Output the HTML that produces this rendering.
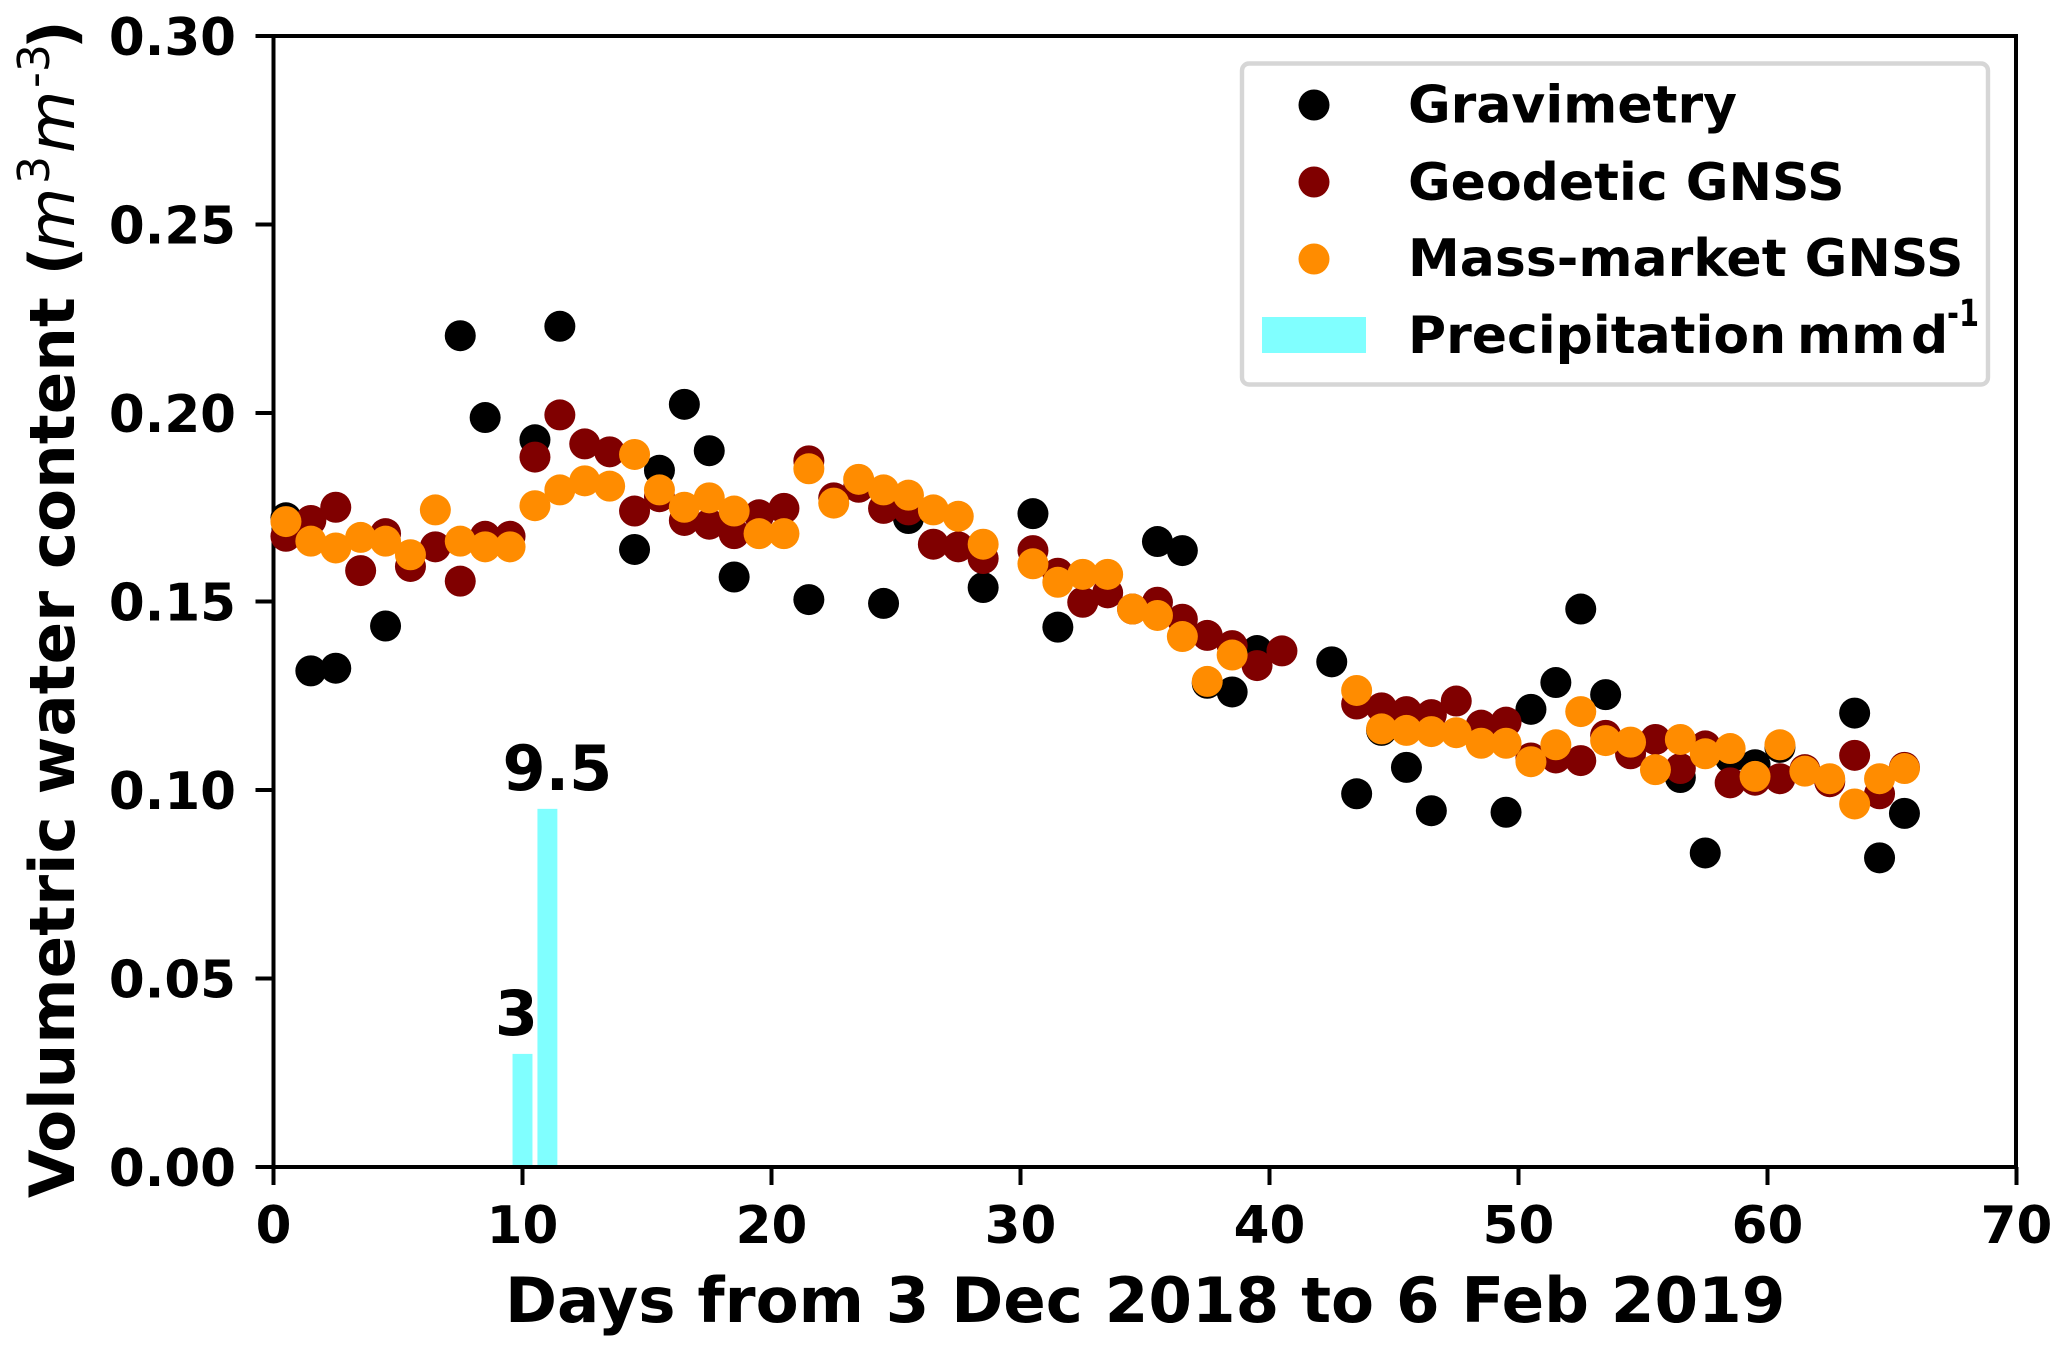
<!DOCTYPE html>
<html lang="en">
<head>
<meta charset="utf-8">
<title>Volumetric water content</title>
<style>
html,body{margin:0;padding:0;background:#fff;}
svg{display:block;}
text{font-family:"DejaVu Sans","Liberation Sans",sans-serif;fill:#000;}
.b{font-weight:700;}
.i{font-style:oblique;font-weight:400;}
</style>
</head>
<body>
<svg id="chart" xmlns="http://www.w3.org/2000/svg" width="2067" height="1354" viewBox="0 0 2067 1354">
  <rect x="0" y="0" width="2067" height="1354" fill="#fff"/>
  <g id="bars"></g>
  <g id="ticks"></g>
  <rect x="273.5" y="36" width="1742.5" height="1131" fill="none" stroke="#000" stroke-width="4"/>
  <g id="points"></g>

  <g>
    <text class="b" font-size="62.7" transform="translate(74,1198) rotate(-90)">Volumetric water content (</text>
    <text class="i" font-size="64" transform="translate(74,250) rotate(-90)">m</text>
    <text font-size="44" transform="translate(49,184) rotate(-90)">3</text>
    <text class="i" font-size="64" transform="translate(74,153) rotate(-90)">m</text>
    <text font-size="44" transform="translate(49,88) rotate(-90)">-3</text>
    <text class="b" font-size="62.7" transform="translate(74,49) rotate(-90)">)</text>
  </g>
  <text class="b" font-size="62.7" x="505" y="1322">Days from 3 Dec 2018 to 6 Feb 2019</text>

  <g>
    <rect x="1242" y="63.5" width="746" height="321" rx="7" ry="7" fill="#fff" stroke="#d6d6d6" stroke-width="4.4"/>
    <circle cx="1314" cy="105" r="15.5" fill="#000"/>
    <text class="b" font-size="52" x="1408" y="122.5">Gravimetry</text>
    <circle cx="1314" cy="182" r="15.5" fill="#800000"/>
    <text class="b" font-size="52" x="1408" y="200">Geodetic GNSS</text>
    <circle cx="1314" cy="259" r="15.5" fill="#ff8c00"/>
    <text class="b" font-size="52" x="1408" y="276">Mass-market GNSS</text>
    <rect x="1262" y="317" width="104" height="36" fill="#80ffff"/>
    <text class="b" font-size="52" x="1408" y="353">Precipitation</text>
    <text class="b" font-size="52" x="1797" y="353">mm</text>
    <text class="b" font-size="52" x="1911" y="353">d</text>
    <text class="b" font-size="37" x="1947" y="326" textLength="32" lengthAdjust="spacingAndGlyphs">-1</text>
  </g>
</svg>
<script>
const xTicks = [0, 10, 20, 30, 40, 50, 60, 70];
const yTicks = [0, 0.05, 0.10, 0.15, 0.20, 0.25, 0.30];
const yTickLabels = ["0.00", "0.05", "0.10", "0.15", "0.20", "0.25", "0.30"];

const gravimetryDays = [0.5,1.5,2.5,4.5,7.5,8.5,10.5,11.5,14.5,15.5,16.5,17.5,18.5,21.5,24.5,25.5,28.5,30.5,31.5,35.5,36.5,37.5,38.5,39.5,42.5,43.5,44.5,45.5,46.5,49.5,50.5,51.5,52.5,53.5,56.5,57.5,58.5,59.5,60.5,63.5,64.5,65.5];
const gravimetryValues = [0.1722,0.1316,0.1323,0.1435,0.2205,0.1988,0.1929,0.223,0.1638,0.1848,0.2023,0.19,0.1565,0.1505,0.1495,0.172,0.1537,0.1733,0.1432,0.1659,0.1635,0.1283,0.126,0.137,0.134,0.099,0.1158,0.106,0.0945,0.0941,0.1214,0.1285,0.148,0.1253,0.1033,0.0833,0.1085,0.1067,0.1113,0.1204,0.082,0.0938];

const geodeticDays = [0.5,1.5,2.5,3.5,4.5,5.5,6.5,7.5,8.5,9.5,10.5,11.5,12.5,13.5,14.5,15.5,16.5,17.5,18.5,19.5,20.5,21.5,22.5,23.5,24.5,25.5,26.5,27.5,28.5,30.5,31.5,32.5,33.5,34.5,35.5,36.5,37.5,38.5,39.5,40.5,43.5,44.5,45.5,46.5,47.5,48.5,49.5,50.5,51.5,52.5,53.5,54.5,55.5,56.5,57.5,58.5,59.5,60.5,61.5,62.5,63.5,64.5,65.5];
const geodeticValues = [0.1673,0.1715,0.175,0.1582,0.168,0.1593,0.1645,0.1554,0.1673,0.1673,0.1883,0.1995,0.1918,0.1897,0.174,0.1778,0.1715,0.1705,0.168,0.173,0.1747,0.1873,0.1775,0.1803,0.1747,0.1743,0.1652,0.1645,0.1614,0.1635,0.1575,0.1498,0.1523,0.148,0.1498,0.1453,0.141,0.1383,0.133,0.1369,0.1228,0.1218,0.1208,0.12,0.1236,0.1172,0.118,0.1085,0.1085,0.1078,0.1145,0.1096,0.1134,0.1057,0.1117,0.1019,0.1026,0.103,0.1054,0.1022,0.1092,0.099,0.106];

const massMarketDays = [0.5,1.5,2.5,3.5,4.5,5.5,6.5,7.5,8.5,9.5,10.5,11.5,12.5,13.5,14.5,15.5,16.5,17.5,18.5,19.5,20.5,21.5,22.5,23.5,24.5,25.5,26.5,27.5,28.5,30.5,31.5,32.5,33.5,34.5,35.5,36.5,37.5,38.5,43.5,44.5,45.5,46.5,47.5,48.5,49.5,50.5,51.5,52.5,53.5,54.5,55.5,56.5,57.5,58.5,59.5,60.5,61.5,62.5,63.5,64.5,65.5];
const massMarketValues = [0.1712,0.166,0.1642,0.167,0.166,0.1624,0.1743,0.166,0.1645,0.1645,0.1754,0.1796,0.182,0.1806,0.189,0.1796,0.175,0.1775,0.174,0.168,0.168,0.1852,0.1761,0.1824,0.1796,0.1782,0.1743,0.1726,0.1652,0.16,0.1551,0.1572,0.1572,0.148,0.1463,0.1407,0.1288,0.1358,0.1264,0.1162,0.1158,0.1155,0.1152,0.1124,0.1124,0.1075,0.112,0.1208,0.1131,0.1127,0.1054,0.1134,0.1096,0.111,0.1036,0.112,0.105,0.103,0.0963,0.103,0.1057];

const precipDays = [10, 11];
const precipHeights = [0.03, 0.095];
const precipLabels = ["3", "9.5"];

const SVGNS = "http://www.w3.org/2000/svg";
const X0 = 273.5, PX_PER_DAY = 24.9, Y0 = 1167, PX_PER_UNIT = 3770;
const BAR_WIDTH_DAYS = 0.8;
function xScale(d) { return X0 + d * PX_PER_DAY; }
function yScale(v) { return Y0 - v * PX_PER_UNIT; }
function make(tag, attrs) {
  const el = document.createElementNS(SVGNS, tag);
  for (const k in attrs) el.setAttribute(k, attrs[k]);
  return el;
}

const ticksGroup = document.getElementById("ticks");
xTicks.forEach(function (t) {
  const line = make("line", {x1: xScale(t), x2: xScale(t), y1: Y0, y2: Y0 + 18, stroke: "#000", "stroke-width": 4});
  
  
  ticksGroup.appendChild(line);
  const label = make("text", {x: xScale(t), y: 1243, "text-anchor": "middle", "font-size": 51.5, class: "b"});
  
  
  label.textContent = String(t);
  ticksGroup.appendChild(label);
});
yTicks.forEach(function (t, i) {
  const line = make("line", {x1: X0 - 18, x2: X0, y1: yScale(t), y2: yScale(t), stroke: "#000", "stroke-width": 4});
  
  
  ticksGroup.appendChild(line);
  const label = make("text", {x: 236, y: yScale(t) + 19, "text-anchor": "end", "font-size": 51.5, class: "b"});
  
  
  label.textContent = yTickLabels[i];
  ticksGroup.appendChild(label);
});

const barsGroup = document.getElementById("bars");
precipDays.forEach(function (d, i) {
  const bar = make("rect", {
    x: xScale(d - BAR_WIDTH_DAYS / 2),
    y: yScale(precipHeights[i]),
    width: BAR_WIDTH_DAYS * PX_PER_DAY,
    height: precipHeights[i] * PX_PER_UNIT,
    fill: "#80ffff"
  });
  
  
  barsGroup.appendChild(bar);
  const label = make("text", {
    x: xScale(d) + (i === 0 ? -6 : 10),
    y: yScale(precipHeights[i]) - 19,
    "text-anchor": "middle",
    "font-size": 62,
    class: "b"
  });
  
  
  label.textContent = precipLabels[i];
  barsGroup.appendChild(label);
});

const pointsGroup = document.getElementById("points");
function drawSeries(days, values, color, name) {
  const g = make("g", {});
  
  
  days.forEach(function (d, i) {
    const c = make("circle", {cx: xScale(d), cy: yScale(values[i]), r: 15.5, fill: color});
    
    
    g.appendChild(c);
  });
  pointsGroup.appendChild(g);
}
drawSeries(gravimetryDays, gravimetryValues, "#000000", "gravimetry-series");
drawSeries(geodeticDays, geodeticValues, "#800000", "geodetic-gnss-series");
drawSeries(massMarketDays, massMarketValues, "#ff8c00", "mass-market-gnss-series");
</script>
</body>
</html>
